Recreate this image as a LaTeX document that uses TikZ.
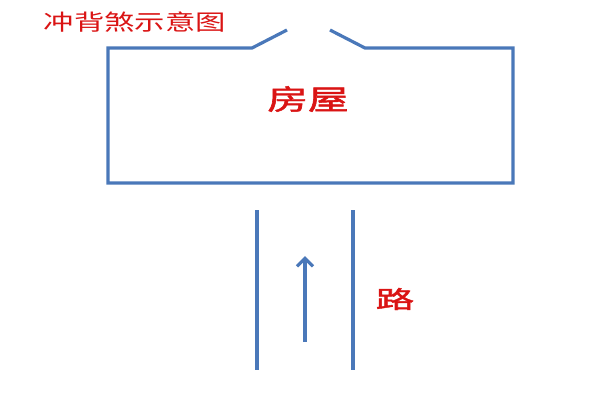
\documentclass[tikz,border=0pt]{standalone}
\usepackage{fontspec}
\newfontfamily\cjk{Noto Sans CJK SC}
\newfontfamily\cjkb[FakeBold=1.6]{Noto Sans CJK SC}
\usetikzlibrary{arrows.meta}
\definecolor{lineblue}{RGB}{74,120,185}
\definecolor{txtred}{RGB}{218,20,20}
\tikzset{
  wall/.style={draw=lineblue, line width=3.2pt, line join=miter},
  lbl/.style={text=txtred, inner sep=0pt},
}
\begin{document}
\begin{tikzpicture}[x=1pt,y=-1pt]
\useasboundingbox (0,0) rectangle (600,400);
% title
\node[lbl, font=\cjk] (title) at (135,22) {\fontsize{22}{22}\selectfont\scalebox{1.38}[1]{冲背煞示意图}};
% house
\coordinate (hl) at (252,48);
\coordinate (hlf) at (287,30);
\coordinate (hr) at (365,48);
\coordinate (hrf) at (330,30);
\draw[wall] (hlf) -- (hl) -- (108,48) -- (108,183) -- (513,183) -- (513,48) -- (hr) -- (hrf);
\node[lbl, font=\cjkb] (house) at (308,99) {\fontsize{28}{28}\selectfont\scalebox{1.45}[1]{房屋}};
% road
\coordinate (r1a) at (257,210);
\coordinate (r1b) at (257,370);
\coordinate (r2a) at (353,210);
\coordinate (r2b) at (353,370);
\draw[wall] (r1a) -- (r1b);
\draw[wall] (r2a) -- (r2b);
\coordinate (aS) at (305,342);
\coordinate (aE) at (305,256);
\draw[wall, -{Straight Barb[length=8pt,width=16pt,line width=3.2pt]}] (aS) -- (aE);
\node[lbl, font=\cjkb] (road) at (395,299) {\fontsize{24}{24}\selectfont\scalebox{1.6}[1]{路}};
\end{tikzpicture}
\end{document}
